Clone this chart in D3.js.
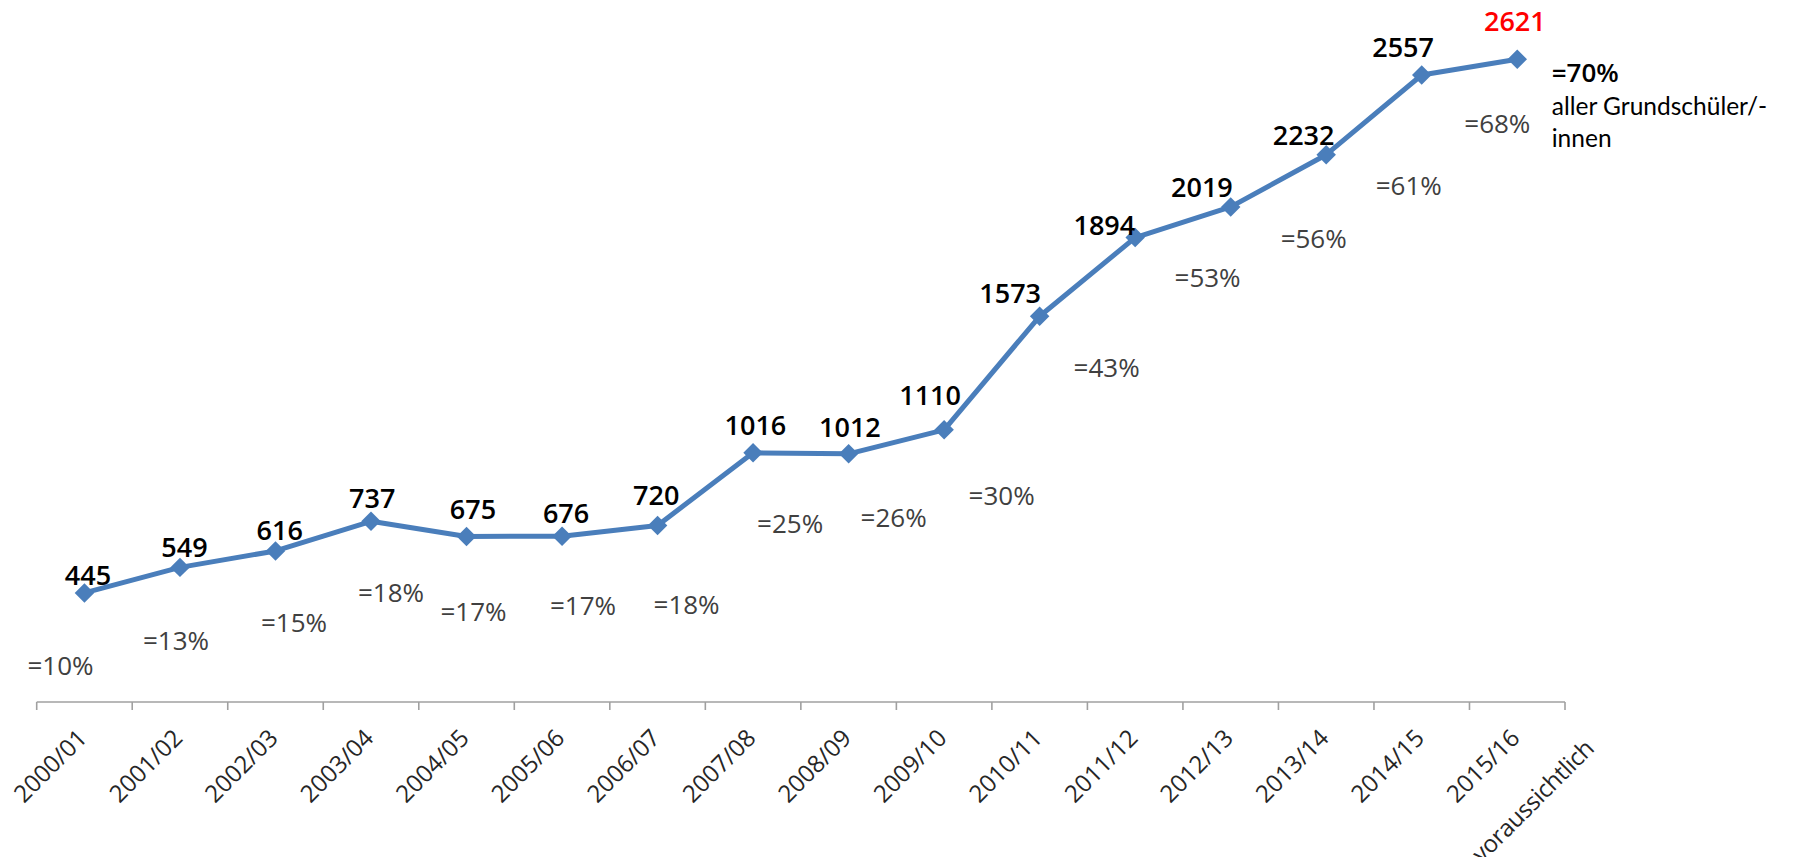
<!DOCTYPE html>
<html>
<head>
<meta charset="utf-8">
<script src="https://cdn.jsdelivr.net/npm/d3@7"></script>
<style>
  html, body { margin: 0; padding: 0; background: #ffffff; }
  svg { display: block; }
</style>
</head>
<body>
<svg id="chart" width="1798" height="857"></svg>
<script>
// ---------- data ----------
const categories = ["2000/01","2001/02","2002/03","2003/04","2004/05","2005/06","2006/07","2007/08",
                    "2008/09","2009/10","2010/11","2011/12","2012/13","2013/14","2014/15","2015/16"];
const lastCategoryNote = "voraussichtlich";
const students = [445, 549, 616, 737, 675, 676, 720, 1016, 1012, 1110, 1573, 1894, 2019, 2232, 2557, 2621];
const shares = [10, 13, 15, 18, 17, 17, 18, 25, 26, 30, 43, 53, 56, 61, 68, 70];
const annotationLines = ["aller Grundschüler/-", "innen"];

// ---------- layout (hand-placed label offsets, relative to each point) ----------
const valueLabelOffsets = [[3.5,-8],[4.5,-10.7],[4.2,-11],[1.2,-13],[6.4,-17.2],[4,-13.5],[-1.3,-20.5],
  [2.3,-18],[1.3,-17.2],[-14,-24.8],[-29.5,-13],[-30.8,-2.6],[-28.8,-10.2],[-22.6,-9.7],[-18.6,-17.7],[-2.4,-28.6]];
const shareLabelOffsets = [[-24,82],[-4,83],[18.5,81],[20,81],[7,85],[21,79],[29,88.5],[37,80],[45,73],
  [57.5,75],[67,60.4],[72.4,49],[83,41.4],[82.6,40.3],[75.6,58.3]];

const svg = d3.select("#chart");
const axisY = 702;
const x = d3.scaleBand().domain(categories).range([36.7, 1565]).paddingInner(0).paddingOuter(0);
const y = d3.scaleLinear().domain([0, 2800]).range([axisY, 15.4]);
const cx = d => x(d) + x.bandwidth() / 2;

const FONT = "'Open Sans', 'Noto Sans', sans-serif";

// ---------- x axis ----------
const axisG = svg.append("g");
axisG.append("line")
  .attr("x1", x.range()[0]).attr("x2", x.range()[1])
  .attr("y1", axisY).attr("y2", axisY)
  .attr("stroke", "#a0a0a0").attr("stroke-width", 1.6);
const tickPos = categories.map(c => x(c)).concat([x.range()[1]]);
axisG.selectAll("line.tick").data(tickPos).enter().append("line")
  .attr("class", "tick")
  .attr("x1", d => d).attr("x2", d => d)
  .attr("y1", axisY).attr("y2", axisY + 8)
  .attr("stroke", "#a0a0a0").attr("stroke-width", 1.6);

axisG.selectAll("text.cat").data(categories).enter().append("text")
  .attr("class", "cat")
  .attr("transform", d => `translate(${cx(d) + 4},${axisY + 37.5}) rotate(-45)`)
  .attr("text-anchor", "end")
  .attr("font-family", FONT).attr("font-size", 24).attr("fill", "#262626")
  .text(d => d);
// second line of the last category label
const lastCat = categories[categories.length - 1];
axisG.append("text")
  .attr("transform", `translate(${cx(lastCat) + 4},${axisY + 37.5}) rotate(-45) translate(45,60)`)
  .attr("text-anchor", "end")
  .attr("font-family", FONT).attr("font-size", 24).attr("letter-spacing", -0.4).attr("fill", "#262626")
  .text(lastCategoryNote);

// ---------- line ----------
const line = d3.line().x((d, i) => cx(categories[i])).y(d => y(d));
svg.append("path").datum(students)
  .attr("d", line)
  .attr("fill", "none").attr("stroke", "#4a7ebb").attr("stroke-width", 5)
  .attr("stroke-linejoin", "round");

svg.selectAll("path.marker").data(students).enter().append("path")
  .attr("class", "marker")
  .attr("d", d3.symbol(d3.symbolSquare, 190))
  .attr("transform", (d, i) => `translate(${cx(categories[i])},${y(d)}) rotate(45)`)
  .attr("fill", "#4a7ebb");

// ---------- value labels ----------
svg.selectAll("text.val").data(students).enter().append("text")
  .attr("class", "val")
  .attr("x", (d, i) => cx(categories[i]) + valueLabelOffsets[i][0])
  .attr("y", (d, i) => y(d) + valueLabelOffsets[i][1])
  .attr("text-anchor", "middle")
  .attr("font-family", FONT).attr("font-size", 27).attr("font-weight", 600)
  .attr("fill", (d, i) => i === students.length - 1 ? "#ff0000" : "#000000")
  .text(d => d);

// ---------- share labels ----------
svg.selectAll("text.share").data(shares.slice(0, shares.length - 1)).enter().append("text")
  .attr("class", "share")
  .attr("x", (d, i) => cx(categories[i]) + shareLabelOffsets[i][0])
  .attr("y", (d, i) => y(students[i]) + shareLabelOffsets[i][1])
  .attr("text-anchor", "middle")
  .attr("font-family", FONT).attr("font-size", 26).attr("fill", "#404040")
  .text(d => "=" + d + "%");

// ---------- annotation for the last point ----------
const lastI = students.length - 1;
const ax = cx(categories[lastI]) + 34.5;
const ay = y(students[lastI]) + 22.4;
const ann = svg.append("g");
ann.append("text")
  .attr("x", ax).attr("y", ay)
  .attr("font-family", FONT).attr("font-size", 26).attr("font-weight", 600).attr("fill", "#000")
  .text("=" + shares[lastI] + "%");
annotationLines.forEach((t, k) => {
  ann.append("text")
    .attr("x", ax).attr("y", ay + 33.5 + k * 32)
    .attr("font-family", "Lato, 'Open Sans', sans-serif").attr("font-size", 24.5).attr("fill", "#000")
    .text(t);
});
</script>
</body>
</html>
